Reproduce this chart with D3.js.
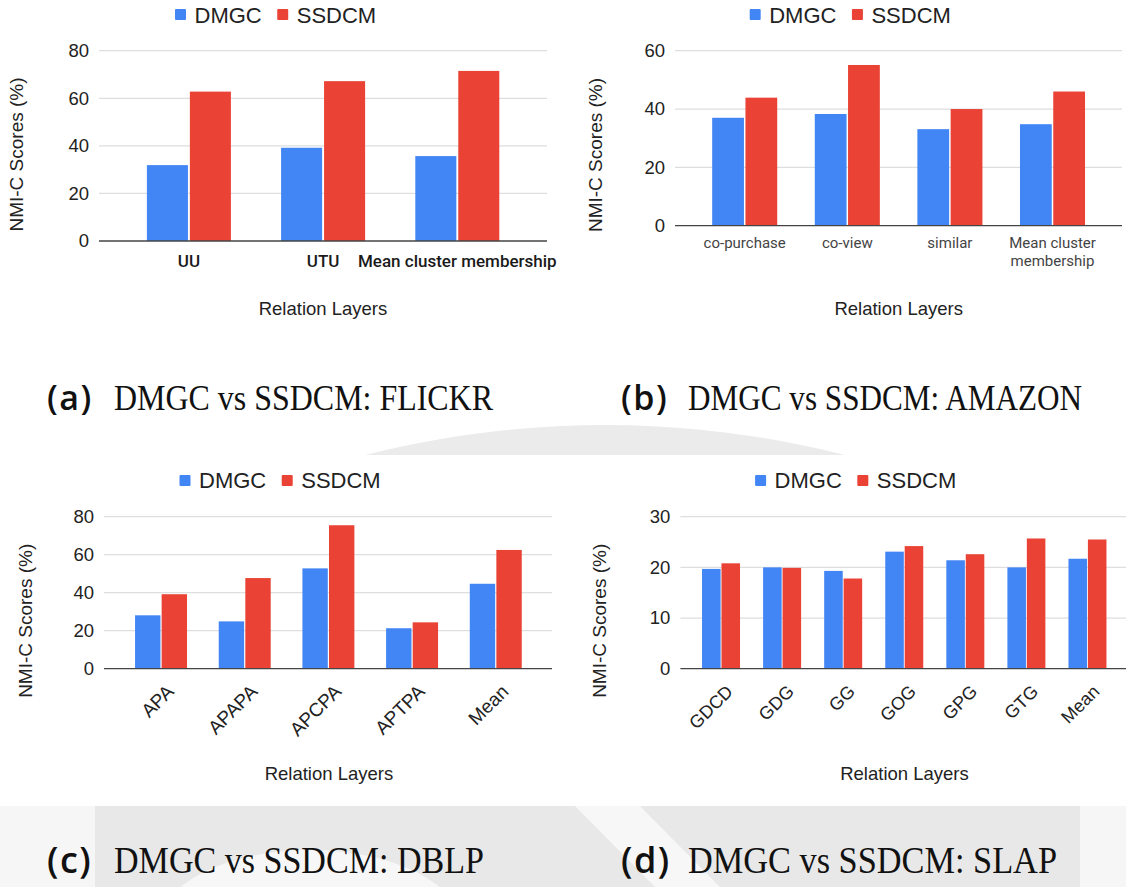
<!DOCTYPE html>
<html>
<head>
<meta charset="utf-8">
<script src="https://cdn.jsdelivr.net/npm/d3@7"></script>
<style>
  html, body { margin: 0; padding: 0; background: #ffffff; }
  svg { display: block; }
</style>
</head>
<body>
<svg id="fig" width="1126" height="887"></svg>
<script>
// ---- data ----
const seriesNames = ["DMGC", "SSDCM"];
const seriesColors = ["#4285F4", "#EA4335"];

const flickrLayers = ["UU", "UTU", "Mean cluster membership"];
const flickrDMGC = [31.9, 39.2, 35.7];
const flickrSSDCM = [62.8, 67.2, 71.5];
const flickrTicks = [0, 20, 40, 60, 80];

const amazonLayers = ["co-purchase", "co-view", "similar", "Mean cluster membership"];
const amazonDMGC = [37.0, 38.3, 33.1, 34.8];
const amazonSSDCM = [43.9, 55.1, 40.0, 46.0];
const amazonTicks = [0, 20, 40, 60];

const dblpLayers = ["APA", "APAPA", "APCPA", "APTPA", "Mean"];
const dblpDMGC = [28.1, 24.9, 52.8, 21.3, 44.7];
const dblpSSDCM = [39.2, 47.7, 75.5, 24.4, 62.5];
const dblpTicks = [0, 20, 40, 60, 80];

const slapLayers = ["GDCD", "GDG", "GG", "GOG", "GPG", "GTG", "Mean"];
const slapDMGC = [19.7, 20.0, 19.3, 23.1, 21.4, 20.0, 21.7];
const slapSSDCM = [20.8, 19.9, 17.8, 24.2, 22.6, 25.7, 25.5];
const slapTicks = [0, 10, 20, 30];

const captionTags = ["(a)", "(b)", "(c)", "(d)"];
const captionTexts = ["DMGC vs SSDCM: FLICKR", "DMGC vs SSDCM: AMAZON",
                      "DMGC vs SSDCM: DBLP", "DMGC vs SSDCM: SLAP"];
const yAxisTitle = "NMI-C Scores (%)";
const xAxisTitle = "Relation Layers";

// ---- drawing ----
const svg = d3.select("#fig");
const SANS = "'Liberation Sans', Arial, sans-serif";

// faint background emblem behind the captions
const bg = svg.append("g").attr("class", "backdrop");
bg.append("clipPath").attr("id", "midStrip")
  .append("rect").attr("x", 0).attr("y", 336).attr("width", 1126).attr("height", 119);
bg.append("circle").attr("cx", 605).attr("cy", 1400).attr("r", 975)
  .attr("fill", "#ebebeb").attr("clip-path", "url(#midStrip)");
bg.append("rect").attr("x", 0).attr("y", 806).attr("width", 1126).attr("height", 81).attr("fill", "#e8e8e8");
bg.append("rect").attr("x", 0).attr("y", 806).attr("width", 95).attr("height", 81).attr("fill", "#f6f6f6");
bg.append("ellipse").attr("cx", 310).attr("cy", 925).attr("rx", 150).attr("ry", 75).attr("fill", "#f7f7f7");
bg.append("path").attr("d", "M575,806 L640,806 L720,887 L655,887 Z").attr("fill", "#f7f7f7");
bg.append("rect").attr("x", 1080).attr("y", 806).attr("width", 46).attr("height", 81).attr("fill", "#f6f6f6");

function wrapLines(text, maxWidth, measure) {
  const words = text.split(" ");
  const lines = [];
  let cur = "";
  words.forEach(w => {
    const trial = cur ? cur + " " + w : w;
    if (cur && measure(trial) > maxWidth) { lines.push(cur); cur = w; }
    else cur = trial;
  });
  if (cur) lines.push(cur);
  return lines;
}

function drawPanel(cfg) {
  const g = svg.append("g").attr("class", "panel");
  const yMax = d3.max(cfg.ticks);
  const y = d3.scaleLinear().domain([0, yMax]).range([cfg.y0, cfg.yTop]);
  const x = d3.scaleBand().domain(cfg.layers).range(cfg.band)
    .paddingInner(cfg.pad).paddingOuter(cfg.pad / 2);
  const xs = d3.scaleBand().domain(seriesNames).range([0, x.bandwidth()]).paddingInner(0.045);
  const color = d3.scaleOrdinal().domain(seriesNames).range(seriesColors);

  // gridlines
  g.append("g").selectAll("line")
    .data(cfg.ticks.filter(t => t > 0))
    .join("line")
    .attr("x1", cfg.px0).attr("x2", cfg.px1)
    .attr("y1", d => y(d)).attr("y2", d => y(d))
    .attr("stroke", "#dedede").attr("stroke-width", 1.2);

  // y tick labels
  const yAxis = g.append("g").attr("transform", `translate(${cfg.px0},0)`)
    .call(d3.axisLeft(y).tickValues(cfg.ticks).tickSize(0).tickPadding(10));
  yAxis.select(".domain").remove();
  yAxis.selectAll("text")
    .attr("font-family", SANS).attr("font-size", 18.5).attr("fill", "#222");

  // bars
  const rows = cfg.layers.map((layer, i) => ({
    layer,
    values: seriesNames.map((s, j) => ({ s, v: cfg.series[j][i] }))
  }));
  g.append("g").selectAll("g")
    .data(rows)
    .join("g")
    .attr("transform", d => `translate(${x(d.layer)},0)`)
    .selectAll("rect")
    .data(d => d.values)
    .join("rect")
    .attr("x", d => xs(d.s))
    .attr("width", xs.bandwidth())
    .attr("y", d => y(d.v))
    .attr("height", d => y(0) - y(d.v))
    .attr("fill", d => color(d.s));

  // baseline
  g.append("line")
    .attr("x1", cfg.px0).attr("x2", cfg.px1)
    .attr("y1", y(0)).attr("y2", y(0))
    .attr("stroke", "#444").attr("stroke-width", 1.3);

  // category labels
  const xAxis = g.append("g").attr("transform", `translate(0,${cfg.y0})`)
    .call(d3.axisBottom(x).tickSize(0));
  xAxis.select(".domain").remove();
  const xt = xAxis.selectAll("text")
    .attr("font-family", cfg.labelFont).attr("font-size", cfg.labelSize)
    .attr("font-weight", cfg.labelWeight || 400)
    .attr("fill", cfg.labelColor || "#222");
  if (cfg.rotate) {
    xt.attr("text-anchor", "end")
      .attr("dy", null)
      .attr("y", 0)
      .attr("transform", `translate(${cfg.rotDx},${cfg.rotDy}) rotate(-45)`);
  } else if (cfg.wrap) {
    xt.attr("dy", null).attr("y", cfg.labelDy).each(function (d) {
      const t = d3.select(this);
      const node = this;
      const measure = s => { t.text(s); return node.getComputedTextLength(); };
      const lines = wrapLines(d, x.step() - 6, measure);
      t.text(null);
      lines.forEach((ln, k) => {
        t.append("tspan").attr("x", 0).attr("dy", k === 0 ? 0 : cfg.lineHeight).text(ln);
      });
    });
  } else {
    xt.attr("dy", null).attr("y", cfg.labelDy);
  }

  // axis titles
  g.append("text")
    .attr("transform", `translate(${cfg.yTitleX},${cfg.yTitleY}) rotate(-90)`)
    .attr("text-anchor", "middle").attr("dy", "0.35em")
    .attr("font-family", SANS).attr("font-size", 19).attr("fill", "#222")
    .text(yAxisTitle);
  g.append("text")
    .attr("x", cfg.xTitleX).attr("y", cfg.xTitleY)
    .attr("text-anchor", "middle")
    .attr("font-family", SANS).attr("font-size", 18.5).attr("fill", "#222")
    .text(xAxisTitle);

  // legend
  const lg = g.append("g").attr("transform", `translate(${cfg.legendX},${cfg.legendY})`);
  let cx = 0;
  seriesNames.forEach((s, j) => {
    lg.append("rect").attr("x", cx).attr("y", 0).attr("width", 11).attr("height", 11)
      .attr("rx", 1).attr("fill", color(s));
    const t = lg.append("text").attr("x", cx + 19.5).attr("y", cfg.legendBase)
      .attr("font-family", SANS).attr("font-size", 22).attr("fill", "#222").text(s);
    cx += 19.5 + t.node().getComputedTextLength() + 15.5;
  });
}

drawPanel({
  layers: flickrLayers, series: [flickrDMGC, flickrSSDCM], ticks: flickrTicks,
  y0: 241, yTop: 50.7, px0: 99, px1: 547, band: [121.8, 524.4], pad: 0.374,
  labelFont: "Roboto, 'Liberation Sans', sans-serif", labelSize: 17, labelWeight: 500, labelColor: "#1a1a1a",
  labelDy: 26,
  yTitleX: 16.7, yTitleY: 154.5, xTitleX: 323, xTitleY: 315,
  legendX: 175, legendY: 9, legendBase: 13.7
});

drawPanel({
  layers: amazonLayers, series: [amazonDMGC, amazonSSDCM], ticks: amazonTicks,
  y0: 225.7, yTop: 50.7, px0: 675, px1: 1122, band: [693.4, 1103.8], pad: 0.366,
  labelFont: "Roboto, 'Liberation Sans', sans-serif", labelSize: 15, labelColor: "#444",
  wrap: true, labelDy: 22, lineHeight: 18,
  yTitleX: 595, yTitleY: 155, xTitleX: 898.7, xTitleY: 315,
  legendX: 749.7, legendY: 9, legendBase: 13.7
});

drawPanel({
  layers: dblpLayers, series: [dblpDMGC, dblpSSDCM], ticks: dblpTicks,
  y0: 668.7, yTop: 516.7, px0: 104, px1: 552, band: [119.2, 537.6], pad: 0.379,
  labelFont: SANS, labelSize: 19, rotate: true, rotDx: 14, rotDy: 24,
  yTitleX: 25, yTitleY: 620.8, xTitleX: 328.9, xTitleY: 780,
  legendX: 179.5, legendY: 475, legendBase: 13
});

drawPanel({
  layers: slapLayers, series: [slapDMGC, slapSSDCM], ticks: slapTicks,
  y0: 668.7, yTop: 516.7, px0: 680.4, px1: 1126, band: [690.5, 1118], pad: 0.378,
  labelFont: SANS, labelSize: 18, rotate: true, rotDx: 13, rotDy: 24,
  yTitleX: 599.8, yTitleY: 620.8, xTitleX: 904.5, xTitleY: 780,
  legendX: 755.1, legendY: 475, legendBase: 13
});

// sub-figure captions, left-aligned under each panel
const captionLayout = [
  { x: 47, y: 410, size: 35, width: 379 },
  { x: 621, y: 410, size: 35, width: 394 },
  { x: 47, y: 873, size: 37, width: 370 },
  { x: 621, y: 873, size: 37, width: 369 }
];
captionTags.forEach((tag, i) => {
  const L = captionLayout[i];
  const cg = svg.append("g").attr("class", "caption")
    .attr("transform", `translate(${L.x},${L.y})`);
  cg.append("text").attr("x", 0).attr("y", 0)
    .attr("font-family", "'Open Sans', sans-serif").attr("font-weight", 600)
    .attr("font-size", L.size - 1).attr("letter-spacing", 1.5).attr("fill", "#111").text(tag);
  cg.append("text").attr("x", 67).attr("y", 0)
    .attr("font-family", "'Liberation Serif', 'Times New Roman', serif")
    .attr("font-size", L.size).attr("fill", "#111")
    .attr("textLength", L.width).attr("lengthAdjust", "spacingAndGlyphs")
    .text(captionTexts[i]);
});
</script>
</body>
</html>
